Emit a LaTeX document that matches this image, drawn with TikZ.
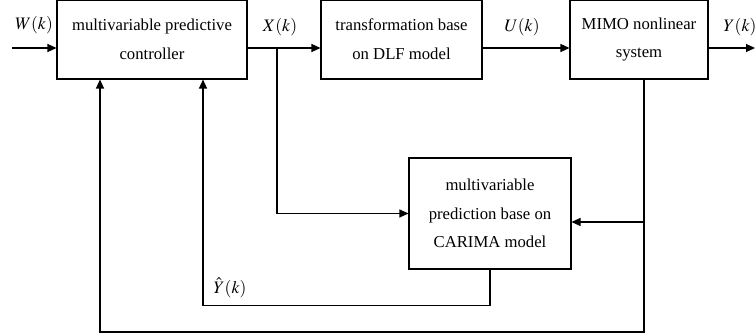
\documentclass[tikz,border=0pt]{standalone}
\usepackage{mathptmx}
\usepackage{fontspec}
\setmainfont{Liberation Serif}
\usetikzlibrary{arrows.meta}

\begin{document}
\begin{tikzpicture}[
    block/.style={draw, line width=0.6pt, align=center, inner sep=0, font=\fontsize{9.5}{16.3}\selectfont},
    sig/.style={line width=0.6pt, -{Triangle[length=1.8mm,width=1.6mm]}},
    wire/.style={line width=0.6pt},
    lbl/.style={inner sep=0, font=\fontsize{10}{12}\selectfont}]
    \pgfmathsetmacro{\boxheight}{1.58}
    \pgfmathsetmacro{\sigy}{5.74}
    \useasboundingbox (0,0) rectangle (15.1,6.7);
    % blocks
    \node[block, minimum width=3.8cm, minimum height=\boxheight cm] (ctrl) at (3.04,5.91) {multivariable predictive\\controller};
    \node[block, minimum width=3.22cm, minimum height=\boxheight cm] (trans) at (8.03,5.91) {transformation base\\on DLF model};
    \node[block, minimum width=2.76cm, minimum height=\boxheight cm] (plant) at (12.78,5.91) {MIMO nonlinear\\system};
    \node[block, minimum width=3.24cm, minimum height=2.22cm] (pred) at (9.80,2.43) {multivariable\\prediction base on\\CARIMA model};
    \coordinate (in) at (0.24,\sigy);
    \coordinate (out) at (15.1,\sigy);
    \coordinate (xtap) at (5.54,\sigy);
    \coordinate (fb) at (12.88,0.06);
    % forward path
    \draw[sig] (in) -- (ctrl.west |- in);
    \draw[sig] (ctrl.east |- in) -- (trans.west |- in);
    \draw[sig] (trans.east |- in) -- (plant.west |- in);
    \draw[sig] (plant.east |- in) -- (out);
    % feedback paths
    \draw[sig] (xtap) |- (pred.west);
    \draw[sig] (plant.south -| fb) -- (fb) -| ([xshift=-1.04cm]ctrl.south);
    \draw[sig] (fb |- 0,2.26) -- (pred.east |- 0,2.26);
    \draw[sig] (pred.south) -- ++(0,-0.72) -| ([xshift=1.02cm]ctrl.south);
    % signal labels
    \node[lbl] (wlabel) at (0.68,6.2) {$W(k)$};
    \node[lbl] (xlabel) at (5.6,6.16) {$X(k)$};
    \node[lbl] (ulabel) at (10.44,6.16) {$U(k)$};
    \node[lbl] (ylabel) at (14.8,6.16) {$Y(k)$};
    \node[lbl] (yhatlabel) at (4.6,0.94) {$\hat{Y}(k)$};
\end{tikzpicture}
\end{document}
